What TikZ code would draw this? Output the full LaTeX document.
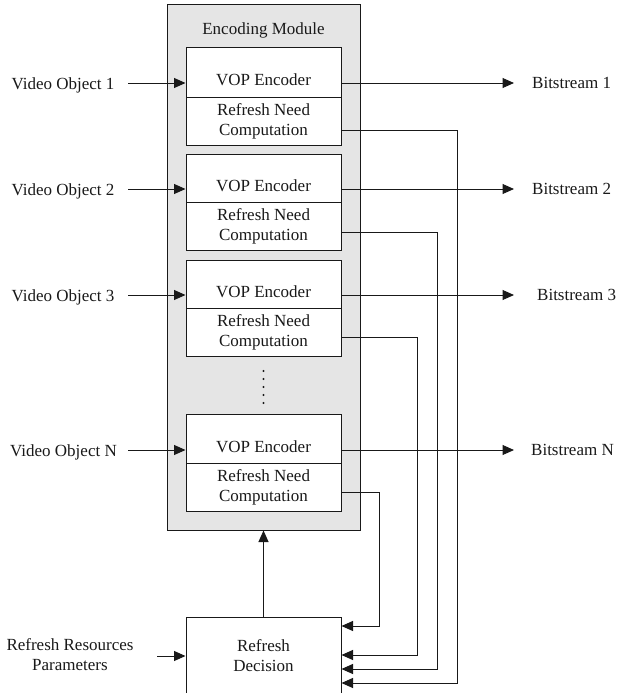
\documentclass[tikz,border=0pt]{standalone}
\usepackage{fontspec}
\setmainfont{Liberation Serif}
\usetikzlibrary{arrows.meta}
\definecolor{modgray}{RGB}{229,229,229}
\definecolor{ink}{RGB}{25,25,25}
\begin{document}
\begin{tikzpicture}[x=1pt,y=-1pt,
  every node/.style={font=\fontsize{17}{20}\selectfont, text=ink},
  arr/.style={draw=ink, line width=1pt, -{Triangle[length=11.5pt,width=10pt]}},
  module/.style={draw=ink, line width=1pt, fill=modgray, minimum width=193pt, minimum height=525pt, inner sep=0pt},
  vopbox/.style={draw=ink, line width=1pt, fill=white, minimum width=155pt, minimum height=49pt, inner sep=0pt},
  needbox/.style={draw=ink, line width=1pt, fill=white, minimum width=155pt, minimum height=48pt, inner sep=0pt, align=center},
  decbox/.style={draw=ink, line width=1pt, fill=white, minimum width=155pt, minimum height=78pt, inner sep=0pt, align=center},
  lbl/.style={inner sep=0pt, align=center}]
\useasboundingbox (0,0) rectangle (617,693);
\clip (0,0) rectangle (617,693);

% encoding module frame
\node[module] (mod) at (263.5,267.5) {};
\node[lbl] (modt) at (263.5,30) {Encoding Module};

% encoder stages: VOP encoder on top, refresh need computation below
\node[vopbox] (v1) at (263.5,72.5) {};
\node[needbox] (r1) at (263.5,121) {Refresh Need\\Computation};
\node[vopbox] (v2) at (263.5,179) {};
\node[needbox] (r2) at (263.5,226.5) {Refresh Need\\Computation};
\node[vopbox] (v3) at (263.5,285) {};
\node[needbox] (r3) at (263.5,332.5) {Refresh Need\\Computation};
\node[vopbox] (v4) at (263.5,439) {};
\node[needbox] (r4) at (263.5,487) {Refresh Need\\Computation};

\node[lbl] (v1t) at (263.5,80) {VOP Encoder};
\node[lbl] (v2t) at (263.5,186) {VOP Encoder};
\node[lbl] (v3t) at (263.5,292) {VOP Encoder};
\node[lbl] (v4t) at (263.5,447) {VOP Encoder};

% vertical ellipsis between stage 3 and stage N
\foreach \yy in {371,379,387,395,403}
  \fill[ink] (263.5,\yy) circle (1.1pt);

% refresh decision block
\node[decbox] (dec) at (263.5,656) {Refresh\\Decision};

% inputs
\node[lbl] (in1) at (63,85) {Video Object 1};
\node[lbl] (in2) at (63,191) {Video Object 2};
\node[lbl] (in3) at (63,297) {Video Object 3};
\node[lbl] (in4) at (63.5,452) {Video Object N};
\node[lbl] (inr) at (70,655) {Refresh Resources\\Parameters};

\coordinate (s1) at (128,83);
\coordinate (s2) at (128,189);
\coordinate (s3) at (128,295);
\coordinate (s4) at (128,450);
\coordinate (sr) at (157,656);
\draw[arr] (s1) -- (s1 -| v1.west);
\draw[arr] (s2) -- (s2 -| v2.west);
\draw[arr] (s3) -- (s3 -| v3.west);
\draw[arr] (s4) -- (s4 -| v4.west);
\draw[arr] (sr) -- (sr -| dec.west);

% bitstream outputs
\coordinate (e1) at (514,83);
\coordinate (e2) at (514,189);
\coordinate (e3) at (514,295);
\coordinate (e4) at (514,450);
\draw[arr] (e1 -| v1.east) -- (e1);
\draw[arr] (e2 -| v2.east) -- (e2);
\draw[arr] (e3 -| v3.east) -- (e3);
\draw[arr] (e4 -| v4.east) -- (e4);
\node[lbl, anchor=west] (b1) at (532,83) {Bitstream 1};
\node[lbl, anchor=west] (b2) at (532,189) {Bitstream 2};
\node[lbl, anchor=west] (b3) at (537,295) {Bitstream 3};
\node[lbl, anchor=west] (b4) at (531,450) {Bitstream N};

% refresh need feedback to the decision block
\coordinate (k1) at (457,683);
\coordinate (k2) at (437,669);
\coordinate (k3) at (417,655);
\coordinate (k4) at (379,626);
\draw[arr] ([yshift=-9pt]r1.east) -| (k1) -- (k1 -| dec.east);
\draw[arr] ([yshift=-5.5pt]r2.east) -| (k2) -- (k2 -| dec.east);
\draw[arr] ([yshift=-4.5pt]r3.east) -| (k3) -- (k3 -| dec.east);
\draw[arr] ([yshift=-5pt]r4.east) -| (k4) -- (k4 -| dec.east);

% decision fed back into the encoding module
\draw[arr] (dec.north) -- (mod.south);
\end{tikzpicture}
\end{document}
